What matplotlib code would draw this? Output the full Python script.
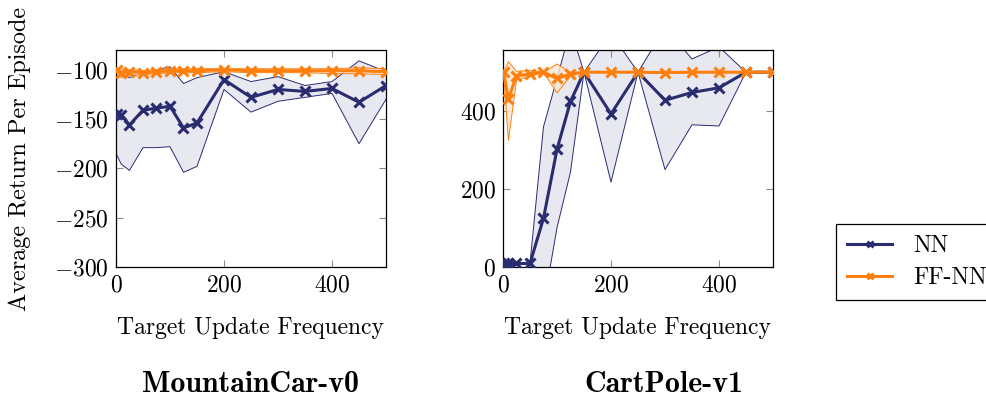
import matplotlib
matplotlib.use("Agg")
import matplotlib.pyplot as plt
from matplotlib.ticker import FuncFormatter, FixedLocator
from matplotlib.lines import Line2D

plt.rcParams['font.family'] = ['cmr10', 'DejaVu Serif']
plt.rcParams['mathtext.fontset'] = 'cm'
plt.rcParams['axes.formatter.use_mathtext'] = True
plt.rcParams['axes.unicode_minus'] = True

# ---------------- data ----------------
freq = [1, 10, 25, 50, 75, 100, 125, 150, 200, 250, 300, 350, 400, 450, 500]

mc_nn_mean = [-145, -146, -156, -141, -139, -137, -159, -154, -110, -128, -120, -122, -119, -133, -116]
mc_nn_upper = [-98, -104, -108, -103, -100, -97, -114, -108, -102, -112, -107, -116, -112, -91, -102]
mc_nn_lower = [-186, -196, -202, -179, -179, -178, -204, -198, -120, -143, -132, -128, -124, -175, -130]

mc_ff_mean = [-100, -103, -102, -103, -102, -101, -101, -101, -100, -101, -101, -101, -101, -101, -102]
mc_ff_upper = [-98, -99, -100, -101, -100, -99, -99, -99, -99, -99, -99, -99, -99, -98, -99]
mc_ff_lower = [-102, -108, -106, -105, -104, -103, -103, -103, -102, -103, -103, -103, -104, -104, -105]

cp_nn_mean = [9, 9, 9, 9, 125, 302, 425, 500, 393, 500, 428, 448, 460, 500, 500]
cp_nn_upper = [10, 10, 10, 10, 360, 484, 611, 500, 600, 500, 614, 534, 565, 500, 500]
cp_nn_lower = [8, 8, 8, 8, -100, 101, 244, 500, 218, 500, 250, 365, 362, 500, 500]

cp_ff_mean = [500, 432, 491, 495, 500, 484, 495, 500, 500, 500, 499, 500, 500, 500, 500]
cp_ff_upper = [500, 527, 502, 505, 500, 521, 500, 500, 500, 500, 500, 500, 500, 500, 500]
cp_ff_lower = [500, 325, 480, 488, 500, 447, 490, 500, 500, 500, 497, 500, 500, 500, 500]

series_names = ["NN", "FF-NN"]
env_titles = ["MountainCar-v0", "CartPole-v1"]
x_label = "Target Update Frequency"
y_label = "Average Return Per Episode"
x_ticks = [0, 200, 400]
mc_y_ticks = [-300, -250, -200, -150, -100]
cp_y_ticks = [0, 200, 400]

NAVY = '#2a2c70'
NAVY_FILL = '#e8e9f0'
ORANGE = '#ff7f0e'
ORANGE_FILL = '#fde6d2'

FS = 17

fig = plt.figure(figsize=(9.87, 4.01), dpi=100)
W, H = 987, 401

def add_ax(left, right, top, bottom):
    return fig.add_axes([left / W, 1 - bottom / H, (right - left) / W, (bottom - top) / H])

ax1 = add_ax(116, 386, 50, 267)
ax2 = add_ax(503, 773, 50, 267)

fmt = FuncFormatter(lambda v, p: r'$%g$' % v)

def draw(ax, nn, ff, ylim, yticks):
    nn_mean, nn_up, nn_lo = nn
    ff_mean, ff_up, ff_lo = ff
    ax.fill_between(freq, nn_lo, nn_up, facecolor=NAVY_FILL, edgecolor='none', zorder=1)
    ax.plot(freq, nn_up, color=NAVY, lw=0.7, zorder=2)
    ax.plot(freq, nn_lo, color=NAVY, lw=0.7, zorder=2)
    ax.plot(freq, nn_mean, color=NAVY, lw=2.2, marker='x', ms=7, mew=2.2, zorder=3)
    ax.fill_between(freq, ff_lo, ff_up, facecolor=ORANGE_FILL, alpha=0.8, edgecolor='none', zorder=4)
    ax.plot(freq, ff_up, color=ORANGE, lw=0.7, zorder=5)
    ax.plot(freq, ff_lo, color=ORANGE, lw=0.7, zorder=5)
    ax.plot(freq, ff_mean, color=ORANGE, lw=2.2, marker='x', ms=7, mew=2.2, zorder=6)
    ax.set_xlim(0, 500)
    ax.set_ylim(*ylim)
    ax.xaxis.set_major_locator(FixedLocator(x_ticks))
    ax.yaxis.set_major_locator(FixedLocator(yticks))
    ax.xaxis.set_major_formatter(fmt)
    ax.yaxis.set_major_formatter(fmt)
    ax.tick_params(direction='in', length=5, width=0.8, color='0.55',
                   top=True, right=True, labelsize=FS, pad=5)
    for s in ax.spines.values():
        s.set_linewidth(0.9)
        s.set_color('black')
    ax.set_xlabel(x_label, fontsize=FS, labelpad=15)

draw(ax1, (mc_nn_mean, mc_nn_upper, mc_nn_lower), (mc_ff_mean, mc_ff_upper, mc_ff_lower),
     (-300, -80), mc_y_ticks)
draw(ax2, (cp_nn_mean, cp_nn_upper, cp_nn_lower), (cp_ff_mean, cp_ff_upper, cp_ff_lower),
     (0, 557), cp_y_ticks)

ax1.set_ylabel(y_label, fontsize=FS + 0.5, labelpad=17)

fig.text(250.5 / W, 1 - 385 / H, env_titles[0], fontsize=21.5, family=['cmb10', 'DejaVu Serif'],
         fontweight='bold', ha='center', va='center')
fig.text(664 / W, 1 - 385 / H, env_titles[1], fontsize=21.5, family=['cmb10', 'DejaVu Serif'],
         fontweight='bold', ha='center', va='center')

handles = [Line2D([], [], color=NAVY, lw=2.2, marker='x', ms=5, mew=2.0),
           Line2D([], [], color=ORANGE, lw=2.2, marker='x', ms=5, mew=2.0)]
leg = fig.legend(handles, series_names, loc='upper left',
                 bbox_to_anchor=(836 / W, 1 - 224 / H), borderaxespad=0, fontsize=FS,
                 frameon=True, fancybox=False, edgecolor='black', framealpha=1,
                 handlelength=1.9, borderpad=0.48, labelspacing=0.4, handletextpad=0.9)
leg.get_frame().set_linewidth(0.9)

fig.savefig('out.png', dpi=100)
